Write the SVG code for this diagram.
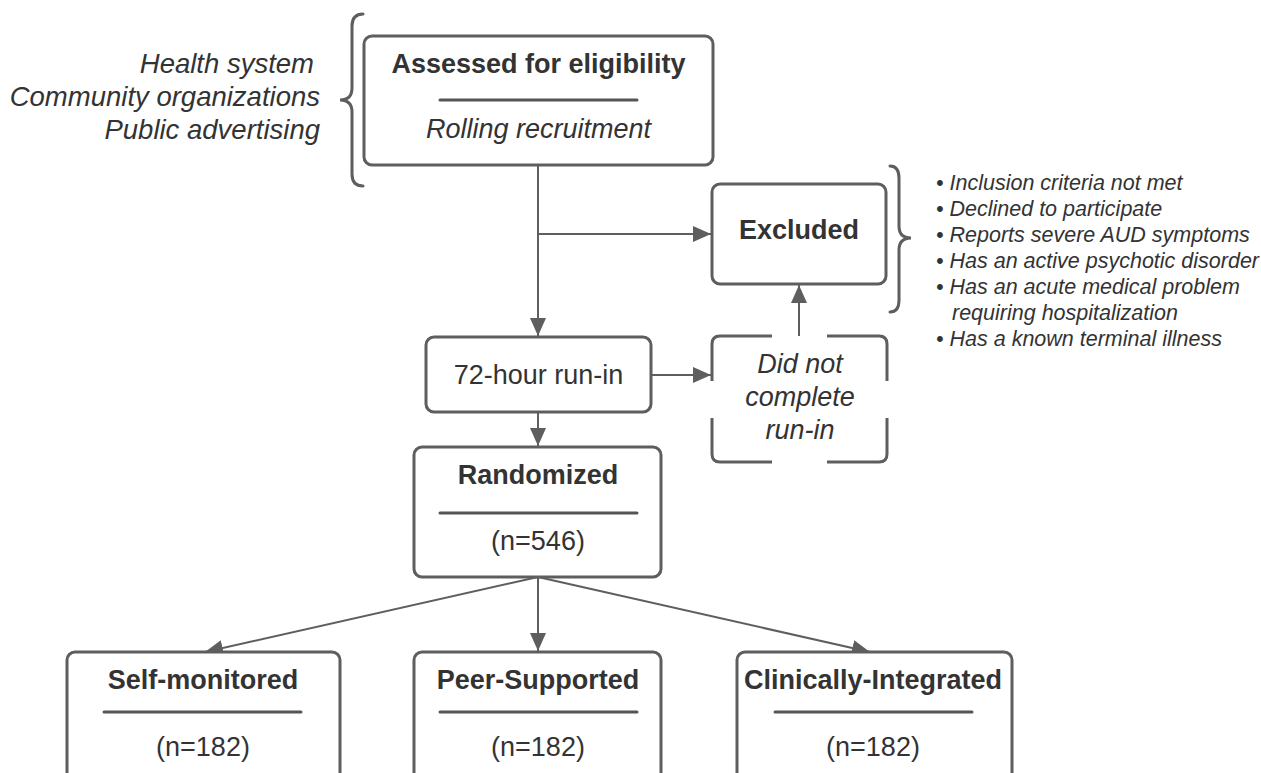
<svg xmlns="http://www.w3.org/2000/svg" width="1261" height="773" viewBox="0 0 1261 773">
<defs>
<style>
.box{fill:#fff;stroke:#5e5e5e;stroke-width:3}
.dash{fill:none;stroke:#5e5e5e;stroke-width:3;stroke-linecap:butt}
.div{stroke:#555;stroke-width:3;stroke-linecap:round}
.edge{fill:none;stroke:#5e5e5e;stroke-width:2}
.brace{fill:none;stroke:#5e5e5e;stroke-width:3;stroke-linecap:round}
text{font-family:"Liberation Sans",Arial,sans-serif;fill:#333}
.t{font-size:27px;font-weight:bold;text-anchor:middle}
.r{font-size:27px;text-anchor:middle}
.i{font-size:27px;font-style:italic;text-anchor:middle}
.src{font-size:27.5px;font-style:italic;text-anchor:end}
.bl{font-size:21.5px;font-style:italic}
</style>
<marker id="ah" markerUnits="userSpaceOnUse" markerWidth="18" markerHeight="16" viewBox="0 0 18 16" refX="18" refY="8" orient="auto">
<path d="M0,0 L18,8 L0,16 z" fill="#5e5e5e"/>
</marker>
</defs>
<rect width="1261" height="773" fill="#fff"/>

<g id="sources">
<text class="src" x="314" y="73">Health system</text>
<text class="src" x="320" y="106">Community organizations</text>
<text class="src" x="320" y="139">Public advertising</text>
<path class="brace" d="M363,14 Q352,14 352,26 L352,88 Q352,100 340,100 Q352,100 352,112 L352,174 Q352,186 363,186"/>
</g>

<g id="connectors">
<path class="edge" d="M538,165 L538,336" marker-end="url(#ah)"/>
<path class="edge" d="M538,234 L711,234" marker-end="url(#ah)"/>
<path class="edge" d="M651,375 L711,375" marker-end="url(#ah)"/>
<path class="edge" d="M799,336 L799,285" marker-end="url(#ah)"/>
<path class="edge" d="M538,412 L538,446" marker-end="url(#ah)"/>
<path class="edge" d="M538,577 L205,652" marker-end="url(#ah)"/>
<path class="edge" d="M538,577 L538,651" marker-end="url(#ah)"/>
<path class="edge" d="M538,577 L870,652" marker-end="url(#ah)"/>
</g>

<g id="assessed">
<rect class="box" x="364" y="36" width="349" height="129" rx="8"/>
<text class="t" x="538.5" y="73">Assessed for eligibility</text>
<line class="div" x1="440" y1="100" x2="637" y2="100"/>
<text class="i" x="538.5" y="138">Rolling recruitment</text>
</g>

<g id="excluded">
<rect class="box" x="712" y="184" width="174" height="100" rx="8"/>
<text class="t" x="799" y="239">Excluded</text>
</g>

<g id="criteria">
<path class="brace" d="M890,166 Q899,166 899,178 L899,226 Q899,238 911,238 Q899,238 899,250 L899,300 Q899,312 890,312"/>
<text class="bl" x="936" y="190">• Inclusion criteria not met</text>
<text class="bl" x="936" y="216">• Declined to participate</text>
<text class="bl" x="936" y="242">• Reports severe AUD symptoms</text>
<text class="bl" x="936" y="268">• Has an active psychotic disorder</text>
<text class="bl" x="936" y="294">• Has an acute medical problem</text>
<text class="bl" x="952" y="320">requiring hospitalization</text>
<text class="bl" x="936" y="346">• Has a known terminal illness</text>
</g>

<g id="runin">
<rect class="box" x="426" y="337" width="225" height="75" rx="8"/>
<text class="r" x="538.5" y="384">72-hour run-in</text>
</g>

<g id="didnot">
<rect x="712" y="336" width="175" height="126" rx="8" fill="#fff"/>
<path class="dash" d="M712,381 L712,344 Q712,336 720,336 L772,336"/>
<path class="dash" d="M827,336 L879,336 Q887,336 887,344 L887,381"/>
<path class="dash" d="M887,418 L887,454 Q887,462 879,462 L827,462"/>
<path class="dash" d="M772,462 L720,462 Q712,462 712,454 L712,418"/>
<text class="i" x="800" y="373">Did not</text>
<text class="i" x="800" y="406">complete</text>
<text class="i" x="800" y="439">run-in</text>
</g>

<g id="randomized">
<rect class="box" x="414" y="447" width="247" height="130" rx="8"/>
<text class="t" x="538" y="484">Randomized</text>
<line class="div" x1="440" y1="513" x2="637" y2="513"/>
<text class="r" x="538" y="550">(n=546)</text>
</g>

<g id="self">
<rect class="box" x="67" y="652" width="273" height="135" rx="8"/>
<text class="t" x="203" y="689">Self-monitored</text>
<line class="div" x1="104" y1="712" x2="301" y2="712"/>
<text class="r" x="203" y="756">(n=182)</text>
</g>

<g id="peer">
<rect class="box" x="414" y="652" width="247" height="135" rx="8"/>
<text class="t" x="538" y="689">Peer-Supported</text>
<line class="div" x1="440" y1="712" x2="637" y2="712"/>
<text class="r" x="538" y="756">(n=182)</text>
</g>

<g id="clinical">
<rect class="box" x="737" y="652" width="275" height="135" rx="8"/>
<text class="t" x="873" y="689">Clinically-Integrated</text>
<line class="div" x1="775" y1="712" x2="972" y2="712"/>
<text class="r" x="873" y="756">(n=182)</text>
</g>
</svg>
